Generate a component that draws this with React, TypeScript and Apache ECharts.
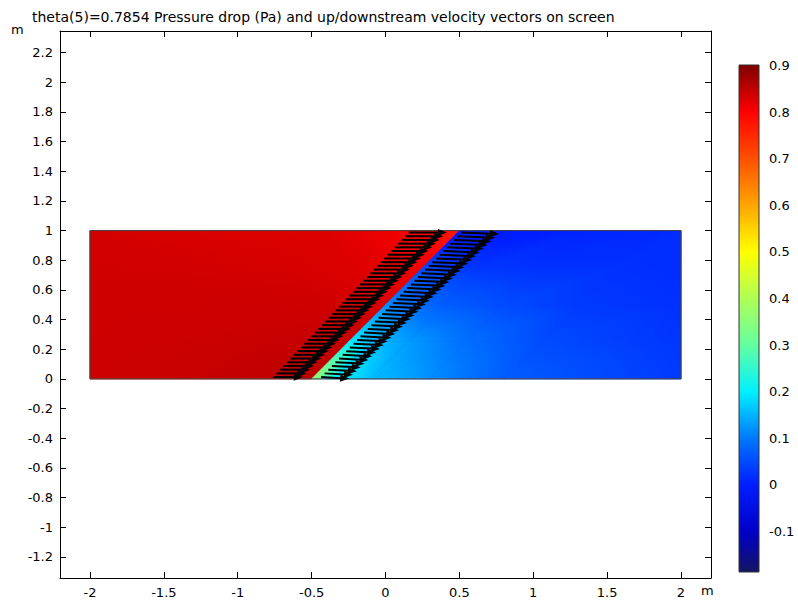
import React, { useEffect, useRef } from "react";
import * as echarts from "echarts";

// ---------- texts & ticks ----------
const TITLE = "theta(5)=0.7854 Pressure drop (Pa) and up/downstream velocity vectors on screen";
const X_TICKS = [-2, -1.5, -1, -0.5, 0, 0.5, 1, 1.5, 2];
const Y_TICKS = [-1.2, -1, -0.8, -0.6, -0.4, -0.2, 0, 0.2, 0.4, 0.6, 0.8, 1, 1.2, 1.4, 1.6, 1.8, 2, 2.2];
const COLORBAR_TICKS = [-0.1, 0, 0.1, 0.2, 0.3, 0.4, 0.5, 0.6, 0.7, 0.8, 0.9];
const X_RANGE = [-2.203, 2.203];
const Y_RANGE = [-1.343, 2.346];
const P_RANGE = [-0.187, 0.901];

// ---------- geometry ----------
const DOMAIN_X = [-2, 2];
const DOMAIN_Y = [0, 1];
const SCREEN_X = [-0.5, 0.5]; // screen x at y = 0 and y = 1

// ---------- pressure field ----------
const MESH_ROWS_Y = [0, 0.25, 0.5, 0.75, 1];
// upstream columns: distance left of the screen; last column is the left wall
const UP_OFFSETS = [0, 0.15, 0.4, 0.9];
const UP_P = [
  [0.855, 0.852, 0.848, 0.843, 0.84],
  [0.845, 0.846, 0.845, 0.842, 0.839],
  [0.828, 0.835, 0.838, 0.839, 0.838],
  [0.805, 0.815, 0.825, 0.833, 0.836],
  [0.765, 0.795, 0.81, 0.826, 0.834],
];
const UP_BASE_P = 0.838;
// downstream columns: distance right of the screen; last column is the right wall
const DOWN_OFFSETS = [0, 0.15, 0.4, 0.8, 1.3];
const DOWN_P = [
  [0.38, 0.21, 0.16, 0.12, 0.07, 0.03],
  [0.2, 0.16, 0.13, 0.09, 0.05, 0.025],
  [0.12, 0.09, 0.07, 0.05, 0.03, 0.02],
  [0.05, 0.03, 0.025, 0.02, 0.02, 0.015],
  [-0.03, -0.02, -0.01, 0.005, 0.01, 0.015],
];
const DOWN_BASE_P = 0.03;

// ---------- velocity arrows (tail x, y, u) ----------
const ARROW_Y = [0.012, 0.037, 0.062, 0.087, 0.112, 0.137, 0.162, 0.187, 0.212, 0.237, 0.262, 0.287, 0.312, 0.337, 0.362, 0.387, 0.412, 0.437, 0.462, 0.487, 0.512, 0.537, 0.562, 0.587, 0.612, 0.637, 0.662, 0.687, 0.712, 0.737, 0.762, 0.787, 0.812, 0.837, 0.862, 0.887, 0.912, 0.937, 0.962, 0.987];
const UP_TAIL_X = [-0.76, -0.737, -0.713, -0.69, -0.666, -0.643, -0.619, -0.596, -0.572, -0.549, -0.525, -0.502, -0.478, -0.455, -0.431, -0.408, -0.384, -0.361, -0.337, -0.314, -0.29, -0.267, -0.243, -0.22, -0.196, -0.173, -0.149, -0.126, -0.102, -0.079, -0.055, -0.032, -0.008, 0.016, 0.039, 0.063, 0.086, 0.11, 0.133, 0.157];
const UP_U = [0.2, 0.202, 0.203, 0.205, 0.206, 0.208, 0.209, 0.211, 0.212, 0.214, 0.215, 0.217, 0.218, 0.22, 0.221, 0.223, 0.224, 0.226, 0.227, 0.229, 0.23, 0.232, 0.233, 0.235, 0.236, 0.238, 0.239, 0.241, 0.242, 0.244, 0.245, 0.247, 0.248, 0.25, 0.251, 0.253, 0.254, 0.256, 0.257, 0.259];
const DOWN_TAIL_X = [-0.436, -0.412, -0.387, -0.363, -0.339, -0.315, -0.29, -0.266, -0.242, -0.217, -0.193, -0.169, -0.144, -0.12, -0.096, -0.072, -0.047, -0.023, 0.001, 0.026, 0.05, 0.074, 0.099, 0.123, 0.147, 0.172, 0.196, 0.22, 0.244, 0.269, 0.293, 0.317, 0.342, 0.366, 0.39, 0.415, 0.439, 0.463, 0.487, 0.512];
const DOWN_U = [0.19, 0.192, 0.193, 0.195, 0.197, 0.199, 0.2, 0.202, 0.204, 0.205, 0.207, 0.209, 0.21, 0.212, 0.214, 0.216, 0.217, 0.219, 0.221, 0.222, 0.224, 0.226, 0.227, 0.229, 0.231, 0.233, 0.234, 0.236, 0.238, 0.239, 0.241, 0.243, 0.244, 0.246, 0.248, 0.25, 0.251, 0.253, 0.255, 0.256];
const DOWN_V = -0.01;

// ---------- colour map ----------
const CMAP_V = [-0.187, -0.1, 0.0, 0.1, 0.2, 0.3, 0.4, 0.5, 0.6, 0.7, 0.8, 0.9, 0.901];
const CMAP_C = [
  [20, 20, 100],
  [0, 0, 200],
  [0, 30, 255],
  [0, 120, 255],
  [0, 240, 255],
  [100, 255, 160],
  [175, 255, 85],
  [255, 255, 0],
  [255, 165, 0],
  [255, 80, 0],
  [255, 0, 0],
  [128, 0, 0],
  [128, 0, 0],
];

const FONT = "DejaVu Sans";

function rgb(c: number[]) {
  return `rgb(${Math.round(c[0])},${Math.round(c[1])},${Math.round(c[2])})`;
}
function colorAt(v: number): string {
  const n = CMAP_V.length;
  if (v <= CMAP_V[0]) return rgb(CMAP_C[0]);
  if (v >= CMAP_V[n - 1]) return rgb(CMAP_C[n - 1]);
  for (let i = 0; i < n - 1; i++) {
    if (v >= CMAP_V[i] && v <= CMAP_V[i + 1]) {
      const t = (v - CMAP_V[i]) / (CMAP_V[i + 1] - CMAP_V[i]);
      const a = CMAP_C[i], b = CMAP_C[i + 1];
      return rgb([a[0] + (b[0] - a[0]) * t, a[1] + (b[1] - a[1]) * t, a[2] + (b[2] - a[2]) * t]);
    }
  }
  return rgb(CMAP_C[n - 1]);
}

function gradientStops(vmin: number, vmax: number) {
  const stops: { offset: number; color: string }[] = [{ offset: 0, color: colorAt(vmin) }];
  for (const v of CMAP_V) {
    if (v > vmin && v < vmax) stops.push({ offset: (v - vmin) / (vmax - vmin), color: colorAt(v) });
  }
  stops.push({ offset: 1, color: colorAt(vmax) });
  return stops;
}

function triangleFill(pts: number[][], vals: number[]): any {
  const [p0, p1, p2] = pts;
  const [v0, v1, v2] = vals;
  const ax = p1[0] - p0[0], ay = p1[1] - p0[1];
  const bx = p2[0] - p0[0], by = p2[1] - p0[1];
  const det = ax * by - ay * bx;
  const vmin = Math.min(v0, v1, v2), vmax = Math.max(v0, v1, v2);
  if (Math.abs(det) < 1e-9 || vmax - vmin < 1e-6) return colorAt((v0 + v1 + v2) / 3);
  const dv1 = v1 - v0, dv2 = v2 - v0;
  const gx = (dv1 * by - ay * dv2) / det;
  const gy = (ax * dv2 - dv1 * bx) / det;
  const g2 = gx * gx + gy * gy;
  if (g2 < 1e-16) return colorAt(v0);
  const sx = p0[0] + (gx * (vmin - v0)) / g2;
  const sy = p0[1] + (gy * (vmin - v0)) / g2;
  const ex = p0[0] + (gx * (vmax - v0)) / g2;
  const ey = p0[1] + (gy * (vmax - v0)) / g2;
  return new echarts.graphic.LinearGradient(sx, sy, ex, ey, gradientStops(vmin, vmax), true);
}

function screenX(y: number) {
  return SCREEN_X[0] + ((SCREEN_X[1] - SCREEN_X[0]) * (y - DOMAIN_Y[0])) / (DOMAIN_Y[1] - DOMAIN_Y[0]);
}

type Node = { x: number; y: number; p: number };

function buildTriangles(): number[][] {
  const tris: number[][] = [];
  // base polygons (hide anti-aliasing seams between triangles)
  const upBase: Node[] = [
    { x: DOMAIN_X[0], y: DOMAIN_Y[0], p: UP_BASE_P },
    { x: SCREEN_X[0], y: DOMAIN_Y[0], p: UP_BASE_P },
    { x: SCREEN_X[1], y: DOMAIN_Y[1], p: UP_BASE_P },
    { x: DOMAIN_X[0], y: DOMAIN_Y[1], p: UP_BASE_P },
  ];
  const downBase: Node[] = [
    { x: SCREEN_X[0], y: DOMAIN_Y[0], p: DOWN_BASE_P },
    { x: DOMAIN_X[1], y: DOMAIN_Y[0], p: DOWN_BASE_P },
    { x: DOMAIN_X[1], y: DOMAIN_Y[1], p: DOWN_BASE_P },
    { x: SCREEN_X[1], y: DOMAIN_Y[1], p: DOWN_BASE_P },
  ];
  for (const q of [upBase, downBase]) {
    tris.push([q[0].x, q[0].y, q[0].p, q[1].x, q[1].y, q[1].p, q[2].x, q[2].y, q[2].p]);
    tris.push([q[0].x, q[0].y, q[0].p, q[2].x, q[2].y, q[2].p, q[3].x, q[3].y, q[3].p]);
  }
  const addGrid = (nodes: Node[][]) => {
    for (let r = 0; r < nodes.length - 1; r++) {
      for (let c = 0; c < nodes[r].length - 1; c++) {
        const a = nodes[r][c], b = nodes[r][c + 1], d = nodes[r + 1][c], e = nodes[r + 1][c + 1];
        tris.push([a.x, a.y, a.p, b.x, b.y, b.p, e.x, e.y, e.p]);
        tris.push([a.x, a.y, a.p, e.x, e.y, e.p, d.x, d.y, d.p]);
      }
    }
  };
  const up = MESH_ROWS_Y.map((y, r) => {
    const sx = screenX(y);
    const row: Node[] = UP_OFFSETS.map((d, c) => ({ x: sx - d, y, p: UP_P[r][c] }));
    row.push({ x: DOMAIN_X[0], y, p: UP_P[r][UP_OFFSETS.length] });
    return row;
  });
  const down = MESH_ROWS_Y.map((y, r) => {
    const sx = screenX(y);
    const row: Node[] = DOWN_OFFSETS.map((d, c) => ({ x: sx + d, y, p: DOWN_P[r][c] }));
    row.push({ x: DOMAIN_X[1], y, p: DOWN_P[r][DOWN_OFFSETS.length] });
    return row;
  });
  addGrid(up);
  addGrid(down);
  return tris;
}

export default function App() {
  const ref = useRef<HTMLDivElement>(null);
  useEffect(() => {
    if (!ref.current) return;
    const chart = echarts.init(ref.current, undefined, { renderer: "svg" });
    const triangles = buildTriangles();
    const upArrows = ARROW_Y.map((y, i) => [UP_TAIL_X[i], y, UP_U[i], 0]);
    const downArrows = ARROW_Y.map((y, i) => [DOWN_TAIL_X[i], y, DOWN_U[i], DOWN_V]);
    const domainLine = [
      [DOMAIN_X[0], DOMAIN_Y[0]],
      [DOMAIN_X[1], DOMAIN_Y[0]],
      [DOMAIN_X[1], DOMAIN_Y[1]],
      [DOMAIN_X[0], DOMAIN_Y[1]],
      [DOMAIN_X[0], DOMAIN_Y[0]],
    ];

    const arrowRender = (params: any, api: any) => {
      const t = api.coord([api.value(0), api.value(1)]);
      const h = api.coord([api.value(0) + api.value(2), api.value(1) + api.value(3)]);
      const dx = h[0] - t[0], dy = h[1] - t[1];
      const len = Math.hypot(dx, dy) || 1;
      const ux = dx / len, uy = dy / len;
      const headLen = 9, headW = 3.6;
      const bx = h[0] - ux * headLen, by = h[1] - uy * headLen;
      return {
        type: "group",
        children: [
          { type: "line", shape: { x1: t[0], y1: t[1], x2: bx + ux, y2: by + uy }, style: { stroke: "#000", lineWidth: 2 } },
          {
            type: "polygon",
            shape: { points: [[h[0], h[1]], [bx - uy * headW, by + ux * headW], [bx + uy * headW, by - ux * headW]] },
            style: { fill: "#000" },
          },
        ],
      };
    };

    const axisCommon = {
      type: "value" as const,
      splitLine: { show: false },
      axisLine: { show: true, onZero: false, lineStyle: { color: "#000", width: 1 } },
    };
    const labelStyle = { color: "#000", fontSize: 13, fontFamily: FONT };

    chart.setOption({
      animation: false,
      backgroundColor: "#fff",
      title: {
        text: TITLE,
        left: 27,
        top: 5,
        textStyle: { fontSize: 14, fontWeight: "normal", color: "#000", fontFamily: FONT },
      },
      graphic: [
        { type: "text", left: 11, top: 23, style: { text: "m", fontSize: 13, fontFamily: FONT, fill: "#000" } },
        { type: "text", left: 701, top: 584, style: { text: "m", fontSize: 13, fontFamily: FONT, fill: "#000" } },
      ],
      grid: [
        { left: 60, top: 31, width: 651, height: 547 },
        { left: 739, top: 65, width: 20, height: 507 },
      ],
      xAxis: [
        {
          ...axisCommon,
          gridIndex: 0,
          min: X_RANGE[0],
          max: X_RANGE[1],
          position: "bottom",
          axisTick: { show: true, inside: true, length: 6, customValues: X_TICKS, lineStyle: { color: "#000" } },
          axisLabel: { ...labelStyle, margin: 8, customValues: X_TICKS, formatter: (v: number) => String(v) },
        },
        {
          ...axisCommon,
          gridIndex: 0,
          min: X_RANGE[0],
          max: X_RANGE[1],
          position: "top",
          axisTick: { show: true, inside: true, length: 6, customValues: X_TICKS, lineStyle: { color: "#000" } },
          axisLabel: { show: false },
        },
        { type: "value", gridIndex: 1, min: 0, max: 1, show: false },
      ],
      yAxis: [
        {
          ...axisCommon,
          gridIndex: 0,
          min: Y_RANGE[0],
          max: Y_RANGE[1],
          position: "left",
          axisTick: { show: true, inside: true, length: 6, customValues: Y_TICKS, lineStyle: { color: "#000" } },
          axisLabel: { ...labelStyle, margin: 7, customValues: Y_TICKS, formatter: (v: number) => String(v) },
        },
        {
          ...axisCommon,
          gridIndex: 0,
          min: Y_RANGE[0],
          max: Y_RANGE[1],
          position: "right",
          axisTick: { show: true, inside: true, length: 6, customValues: Y_TICKS, lineStyle: { color: "#000" } },
          axisLabel: { show: false },
        },
        {
          ...axisCommon,
          gridIndex: 1,
          min: P_RANGE[0],
          max: P_RANGE[1],
          position: "left",
          axisLine: { show: false },
          axisTick: { show: true, inside: true, length: 3, customValues: COLORBAR_TICKS, lineStyle: { color: "#000" } },
          axisLabel: { show: false },
        },
        {
          ...axisCommon,
          gridIndex: 1,
          min: P_RANGE[0],
          max: P_RANGE[1],
          position: "right",
          axisLine: { show: false },
          axisTick: { show: true, inside: true, length: 3, customValues: COLORBAR_TICKS, lineStyle: { color: "#000" } },
          axisLabel: { ...labelStyle, margin: 10, customValues: COLORBAR_TICKS, formatter: (v: number) => String(v) },
        },
      ],
      series: [
        {
          type: "custom",
          name: "pressure",
          xAxisIndex: 0,
          yAxisIndex: 0,
          clip: false,
          silent: true,
          z: 1,
          data: triangles,
          encode: { x: [0, 3, 6], y: [1, 4, 7] },
          renderItem: (params: any, api: any) => {
            const pts = [0, 1, 2].map((k) => api.coord([api.value(3 * k), api.value(3 * k + 1)]));
            const vals = [0, 1, 2].map((k) => api.value(3 * k + 2));
            const fill = triangleFill(pts, vals);
            return { type: "polygon", shape: { points: pts }, style: { fill, stroke: fill, lineWidth: 0.6 } };
          },
        },
        {
          type: "line",
          name: "domain",
          xAxisIndex: 0,
          yAxisIndex: 0,
          data: domainLine,
          symbol: "none",
          silent: true,
          z: 3,
          lineStyle: { color: "#444", width: 1 },
        },
        {
          type: "custom",
          name: "upstream",
          xAxisIndex: 0,
          yAxisIndex: 0,
          clip: false,
          silent: true,
          z: 4,
          data: upArrows,
          encode: { x: 0, y: 1 },
          renderItem: arrowRender,
        },
        {
          type: "custom",
          name: "downstream",
          xAxisIndex: 0,
          yAxisIndex: 0,
          clip: false,
          silent: true,
          z: 4,
          data: downArrows,
          encode: { x: 0, y: 1 },
          renderItem: arrowRender,
        },
        {
          type: "custom",
          name: "colorbar",
          xAxisIndex: 2,
          yAxisIndex: 2,
          silent: true,
          clip: false,
          z: 1,
          data: [[0, P_RANGE[0], 1, P_RANGE[1]]],
          encode: { x: [0, 2], y: [1, 3] },
          renderItem: (params: any, api: any) => {
            const a = api.coord([api.value(0), api.value(1)]);
            const b = api.coord([api.value(2), api.value(3)]);
            const grad = new echarts.graphic.LinearGradient(0, a[1], 0, b[1], gradientStops(P_RANGE[0], P_RANGE[1]), true);
            return {
              type: "rect",
              shape: { x: a[0], y: b[1], width: b[0] - a[0], height: a[1] - b[1] },
              style: { fill: grad, stroke: "#333", lineWidth: 1 },
            };
          },
        },
      ],
    });
    return () => chart.dispose();
  }, []);
  return <div ref={ref} style={{ position: "fixed", left: 0, top: 0, width: 798, height: 602 }} />;
}
